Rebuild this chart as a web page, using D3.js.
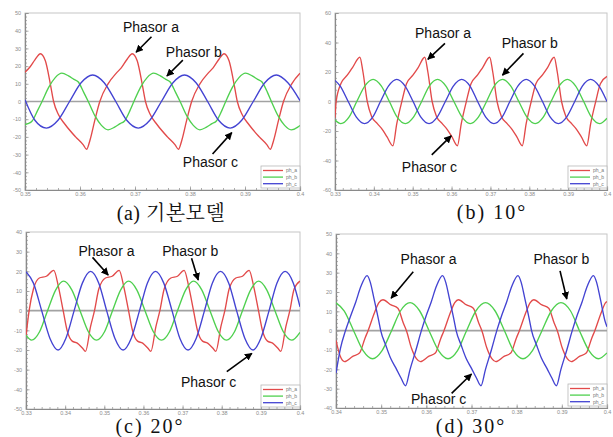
<!DOCTYPE html>
<html>
<head>
<meta charset="utf-8">
<script src="https://cdn.jsdelivr.net/npm/d3@7"></script>
<style>
  body { margin: 0; background: #fff; }
  svg { display: block; }
</style>
</head>
<body>
<svg id="chart" width="613" height="437"></svg>
<script>
// ---- data (time in s, current in A) ----
const seriesNames = ['ph_a', 'ph_b', 'ph_c'];
const captions = ['(a) 기본모델', '(b) 10°', '(c) 20°', '(d) 30°'];

// (a) 기본모델
const aXTicks = [0.35, 0.36, 0.37, 0.38, 0.39, 0.40];
const aYTicks = [-50, -40, -30, -20, -10, 0, 10, 20, 30, 40, 50];
const aPhA = [[0.35,16.5],[0.3509,19.5],[0.3518,23.5],[0.3528,27],[0.3537,23],[0.3546,10],[0.3552,0],[0.3561,-7.5],[0.3573,-13],[0.3592,-20],[0.3606,-24.5],[0.3612,-27],[0.3618,-22],[0.3627,-10.5],[0.3636,0],[0.3651,10],[0.3666,16],[0.3675,19],[0.3686,24],[0.3695,27],[0.3704,23],[0.3713,10],[0.3719,0],[0.3728,-7.5],[0.3740,-13],[0.3759,-20],[0.3773,-24.5],[0.3779,-27],[0.3785,-22],[0.3794,-10.5],[0.3803,0],[0.3818,10],[0.3833,16],[0.3842,19],[0.3853,24],[0.3862,27],[0.3871,23],[0.3880,10],[0.3886,0],[0.3895,-7.5],[0.3907,-13],[0.3926,-20],[0.3940,-24.5],[0.3946,-27],[0.3952,-22],[0.3961,-10.5],[0.3970,0],[0.3985,10],[0.4,16]];
const aPhB = [[0.35,-13],[0.3505,-12.5],[0.3513,-11],[0.3523,-5],[0.3531,0],[0.3543,8],[0.3555,13.5],[0.3567,16],[0.3579,14.5],[0.3589,12.5],[0.3597,11],[0.3607,5],[0.3615,0],[0.3627,-8],[0.3639,-13.5],[0.3651,-16],[0.3663,-14.5],[0.3673,-12.5],[0.3681,-11],[0.3691,-5],[0.3698,0],[0.3710,8],[0.3722,13.5],[0.3734,16],[0.3746,14.5],[0.3756,12.5],[0.3764,11],[0.3774,5],[0.3782,0],[0.3794,-8],[0.3806,-13.5],[0.3818,-16],[0.3830,-14.5],[0.3840,-12.5],[0.3848,-11],[0.3858,-5],[0.3865,0],[0.3877,8],[0.3889,13.5],[0.3901,16],[0.3913,14.5],[0.3923,12.5],[0.3931,11],[0.3941,5],[0.3948,0],[0.3960,-8],[0.3972,-13.5],[0.3984,-16],[0.3996,-14.5],[0.4,-13.5]];
const aPhC = [[0.35,1],[0.3518,-10.6],[0.3539,-15],[0.3560,-10.6],[0.3581,0],[0.3602,10.6],[0.3623,15],[0.3644,10.6],[0.3665,0],[0.3685,-10.6],[0.3706,-15],[0.3727,-10.6],[0.3748,0],[0.3769,10.6],[0.3790,15],[0.3811,10.6],[0.3832,0],[0.3852,-10.6],[0.3873,-15],[0.3894,-10.6],[0.3915,0],[0.3936,10.6],[0.3957,15],[0.3978,10.6],[0.4,0.5]];
// label: text, text t, text v, arrow-from t, v, arrow-to t, v
const aNotes = [
  ['Phasor a', 0.3678, 39.4, 0.3730, 36.6, 0.3702, 27.8],
  ['Phasor b', 0.3756, 25.0, 0.3787, 23.4, 0.3758, 14.4],
  ['Phasor c', 0.3787, -36.8, 0.3841, -29.7, 0.3876, -17.6]
];

// (b) 10°
const bXTicks = [0.33, 0.34, 0.35, 0.36, 0.37, 0.38, 0.39, 0.40];
const bYTicks = [-60, -40, -20, 0, 20, 40, 60];
const bPhA = [[0.33,-11],[0.3303,0],[0.3315,12],[0.3332,18],[0.3345,23],[0.3364,30],[0.3372,20],[0.3383,0],[0.3394,-10],[0.3409,-15],[0.3422,-19],[0.3434,-24],[0.3449,-30],[0.3459,-15],[0.3472,0],[0.3484,12],[0.3501,18],[0.3514,23],[0.3531,30],[0.3539,20],[0.3550,0],[0.3561,-10],[0.3576,-15],[0.3589,-19],[0.3601,-24],[0.3615,-30],[0.3625,-15],[0.3638,0],[0.3650,12],[0.3667,18],[0.3680,23],[0.3698,30],[0.3706,20],[0.3717,0],[0.3728,-10],[0.3743,-15],[0.3756,-19],[0.3768,-24],[0.3782,-30],[0.3792,-15],[0.3805,0],[0.3817,12],[0.3834,18],[0.3847,23],[0.3864,30],[0.3872,20],[0.3883,0],[0.3894,-10],[0.3909,-15],[0.3922,-19],[0.3934,-24],[0.3948,-30],[0.3958,-15],[0.3971,0],[0.3983,12],[0.4,17]];
const bPhB = [[0.33,-12.6],[0.3315,-15],[0.3336,-10.6],[0.3356,0],[0.3377,10.6],[0.3398,15],[0.3419,10.6],[0.3440,0],[0.3460,-10.6],[0.3481,-15],[0.3502,-10.6],[0.3523,0],[0.3543,10.6],[0.3564,15],[0.3585,10.6],[0.3606,0],[0.3627,-10.6],[0.3648,-15],[0.3669,-10.6],[0.3690,0],[0.3710,10.6],[0.3731,15],[0.3752,10.6],[0.3773,0],[0.3794,-10.6],[0.3815,-15],[0.3836,-10.6],[0.3856,0],[0.3877,10.6],[0.3898,15],[0.3919,10.6],[0.3940,0],[0.3960,-10.6],[0.3981,-15],[0.4,-11.3]];
const bPhC = [[0.33,14.3],[0.3313,10.6],[0.3334,0],[0.3355,-10.6],[0.3376,-15],[0.3397,-10.6],[0.3417,0],[0.3438,10.6],[0.3459,15],[0.3480,10.6],[0.3501,0],[0.3521,-10.6],[0.3542,-15],[0.3563,-10.6],[0.3584,0],[0.3605,10.6],[0.3626,15],[0.3647,10.6],[0.3667,0],[0.3688,-10.6],[0.3709,-15],[0.3730,-10.6],[0.3750,0],[0.3771,10.6],[0.3792,15],[0.3813,10.6],[0.3834,0],[0.3854,-10.6],[0.3875,-15],[0.3896,-10.6],[0.3917,0],[0.3937,10.6],[0.3958,15],[0.3979,10.6],[0.4,0]];
const bNotes = [
  ['Phasor a', 0.3506, 42.8, 0.3583, 39.4, 0.3539, 28.6],
  ['Phasor b', 0.3729, 36.0, 0.3785, 32.6, 0.3731, 17.9],
  ['Phasor c', 0.3472, -47.5, 0.3549, -36.2, 0.3599, -23.3]
];

// (c) 20°
const cXTicks = [0.33, 0.34, 0.35, 0.36, 0.37, 0.38, 0.39, 0.40];
const cYTicks = [-50, -40, -30, -20, -10, 0, 10, 20, 30, 40];
const cPhA = [[0.33,-13],[0.3308,0],[0.3319,11],[0.3334,16.6],[0.3352,17.5],[0.3371,20.5],[0.3383,12],[0.3395,0],[0.3405,-10],[0.3418,-15.5],[0.3431,-16.5],[0.3444,-19],[0.3452,-20.7],[0.3465,-8],[0.3475,0],[0.3486,11],[0.3503,16.6],[0.3520,17.5],[0.3538,20.5],[0.3550,12],[0.3562,0],[0.3572,-10],[0.3585,-15.5],[0.3598,-16.5],[0.3611,-19],[0.3619,-20.7],[0.3632,-8],[0.3642,0],[0.3653,11],[0.3670,16.6],[0.3687,17.5],[0.3704,20.5],[0.3716,12],[0.3728,0],[0.3738,-10],[0.3751,-15.5],[0.3764,-16.5],[0.3777,-19],[0.3785,-20.7],[0.3798,-8],[0.3808,0],[0.3819,11],[0.3836,16.6],[0.3853,17.5],[0.3870,20.5],[0.3882,12],[0.3894,0],[0.3904,-10],[0.3917,-15.5],[0.3930,-16.5],[0.3943,-19],[0.3951,-20.7],[0.3964,-8],[0.3974,0],[0.3985,11],[0.4,15]];
const cPhB = [[0.33,-12.5],[0.3314,-15],[0.3335,-10.6],[0.3355,0],[0.3376,10.6],[0.3396,15],[0.3417,10.6],[0.3438,0],[0.3459,-10.6],[0.3480,-15],[0.3501,-10.6],[0.3521,0],[0.3542,10.6],[0.3562,15],[0.3583,10.6],[0.3604,0],[0.3625,-10.6],[0.3646,-15],[0.3667,-10.6],[0.3687,0],[0.3708,10.6],[0.3728,15],[0.3749,10.6],[0.3770,0],[0.3791,-10.6],[0.3812,-15],[0.3833,-10.6],[0.3853,0],[0.3874,10.6],[0.3894,15],[0.3915,10.6],[0.3936,0],[0.3957,-10.6],[0.3979,-15],[0.4,-11]];
const cPhC = [[0.33,19.8],[0.3319,14],[0.3340,0],[0.3361,-14],[0.3382,-20],[0.3402,-14],[0.3423,0],[0.3444,14],[0.3465,20],[0.3486,14],[0.3506,0],[0.3527,-14],[0.3548,-20],[0.3569,-14],[0.3590,0],[0.3610,14],[0.3631,20],[0.3652,14],[0.3673,0],[0.3693,-14],[0.3714,-20],[0.3735,-14],[0.3756,0],[0.3776,14],[0.3797,20],[0.3818,14],[0.3838,0],[0.3859,-14],[0.3880,-20],[0.3900,-14],[0.3921,0],[0.3941,14],[0.3962,20],[0.3983,14],[0.4,2]];
const cNotes = [
  ['Phasor a', 0.3434, 28.0, 0.3470, 27.1, 0.3510, 18.1],
  ['Phasor b', 0.3648, 28.0, 0.3723, 26.6, 0.3740, 15.6],
  ['Phasor c', 0.3696, -38.6, 0.3813, -31.0, 0.3877, -21.7]
];

// (d) 30°
const dXTicks = [0.34, 0.35, 0.36, 0.37, 0.38, 0.39, 0.40];
const dYTicks = [-40, -30, -20, -10, 0, 10, 20, 30, 40, 50];
const dPhA = [[0.34,-5],[0.3409,-13],[0.3419,-16],[0.3437,-13.3],[0.3452,-11.6],[0.3464,-4],[0.3471,0],[0.3486,9.8],[0.3495,14.5],[0.3504,16],[0.3522,13.3],[0.3537,11.6],[0.3549,4],[0.3556,0],[0.3567,-9],[0.3578,-14.5],[0.3587,-16],[0.3605,-13.3],[0.3620,-11.6],[0.3632,-4],[0.3639,0],[0.3654,9.8],[0.3663,14.5],[0.3671,16],[0.3689,13.3],[0.3704,11.6],[0.3716,4],[0.3723,0],[0.3734,-9],[0.3745,-14.5],[0.3754,-16],[0.3772,-13.3],[0.3787,-11.6],[0.3799,-4],[0.3806,0],[0.3821,9.8],[0.3830,14.5],[0.3838,16],[0.3856,13.3],[0.3871,11.6],[0.3883,4],[0.3890,0],[0.3901,-9],[0.3912,-14.5],[0.3921,-16],[0.3939,-13.3],[0.3954,-11.6],[0.3966,-4],[0.3973,0],[0.3988,9.8],[0.3997,14.5],[0.4,15]];
const dPhB = [[0.34,14.4],[0.3418,10.3],[0.3439,0],[0.3460,-10.3],[0.3481,-14.5],[0.3502,-10.3],[0.3523,0],[0.3543,10.3],[0.3564,14.5],[0.3585,10.3],[0.3606,0],[0.3627,-10.3],[0.3648,-14.5],[0.3669,-10.3],[0.3689,0],[0.3710,10.3],[0.3731,14.5],[0.3752,10.3],[0.3773,0],[0.3793,-10.3],[0.3814,-14.5],[0.3835,-10.3],[0.3856,0],[0.3877,10.3],[0.3898,14.5],[0.3919,10.3],[0.3939,0],[0.3960,-10.3],[0.3981,-14.5],[0.4,-11.5]];
const dPhC = [[0.34,-22],[0.3410,-9],[0.3421,0],[0.3433,8],[0.3444,15],[0.3455,22.8],[0.3469,28.5],[0.3476,25],[0.3484,16.7],[0.3495,4.7],[0.3499,0],[0.3510,-7.4],[0.3521,-14.3],[0.3533,-19.5],[0.3544,-24.5],[0.3554,-28.5],[0.3564,-20],[0.3577,-10],[0.3589,0],[0.3600,8],[0.3611,15],[0.3622,22.8],[0.3636,28.5],[0.3643,25],[0.3651,16.7],[0.3662,4.7],[0.3666,0],[0.3677,-7.4],[0.3688,-14.3],[0.3700,-19.5],[0.3711,-24.5],[0.3721,-28.5],[0.3731,-20],[0.3744,-10],[0.3756,0],[0.3767,8],[0.3778,15],[0.3789,22.8],[0.3803,28.5],[0.3810,25],[0.3818,16.7],[0.3829,4.7],[0.3833,0],[0.3844,-7.4],[0.3855,-14.3],[0.3867,-19.5],[0.3878,-24.5],[0.3888,-28.5],[0.3898,-20],[0.3911,-10],[0.3923,0],[0.3934,8],[0.3945,15],[0.3956,22.8],[0.3970,28.5],[0.3977,25],[0.3985,16.7],[0.3996,4.7],[0.4,2]];
const dNotes = [
  ['Phasor a', 0.3543, 34.4, 0.3571, 30.5, 0.3522, 16.8],
  ['Phasor b', 0.3837, 34.4, 0.3896, 30.9, 0.3911, 16.4],
  ['Phasor c', 0.3566, -37.9, 0.3656, -32.4, 0.3700, -22.4]
];

// ---- layout & style ----
const colors = ['#e24a4a', '#4fd04f', '#4343d2'];
const panels = [
  { box: { left: 25, top: 13, width: 275, height: 177 }, cap: [171, 220],
    xTicks: aXTicks, yTicks: aYTicks, series: [aPhA, aPhB, aPhC], notes: aNotes, caption: captions[0] },
  { box: { left: 335, top: 13, width: 272, height: 177 }, cap: [492, 219],
    xTicks: bXTicks, yTicks: bYTicks, series: [bPhA, bPhB, bPhC], notes: bNotes, caption: captions[1] },
  { box: { left: 26, top: 232, width: 274, height: 177 }, cap: [150, 433],
    xTicks: cXTicks, yTicks: cYTicks, series: [cPhA, cPhB, cPhC], notes: cNotes, caption: captions[2] },
  { box: { left: 336, top: 234, width: 271, height: 174 }, cap: [471, 433],
    xTicks: dXTicks, yTicks: dYTicks, series: [dPhA, dPhB, dPhC], notes: dNotes, caption: captions[3] }
];

const svg = d3.select('#chart');

svg.append('defs').append('marker')
  .attr('id', 'head')
  .attr('viewBox', '0 0 10 10')
  .attr('refX', 9).attr('refY', 5)
  .attr('markerWidth', 4.8).attr('markerHeight', 4.8)
  .attr('orient', 'auto')
  .append('path')
  .attr('d', 'M0,0 L10,5 L0,10 Z')
  .attr('fill', '#000');

// split each major interval into 5 for the ruler ticks
function minorTicks(ticks) {
  const out = [];
  for (let i = 0; i < ticks.length - 1; i++) {
    const step = (ticks[i + 1] - ticks[i]) / 5;
    for (let k = 0; k < 5; k++) out.push(ticks[i] + k * step);
  }
  out.push(ticks[ticks.length - 1]);
  return out;
}

panels.forEach((p, pi) => {
  const B = p.box;
  const x = d3.scaleLinear().domain(d3.extent(p.xTicks)).range([B.left, B.left + B.width]);
  const y = d3.scaleLinear().domain(d3.extent(p.yTicks)).range([B.top + B.height, B.top]);
  const g = svg.append('g');

  const clipId = 'clip' + pi;
  svg.select('defs').append('clipPath').attr('id', clipId)
    .append('rect').attr('x', B.left).attr('y', B.top).attr('width', B.width).attr('height', B.height);

  // frame
  g.append('rect')
    .attr('x', B.left).attr('y', B.top).attr('width', B.width).attr('height', B.height)
    .attr('fill', '#fff').attr('stroke', '#c6c6c6').attr('stroke-width', 1);

  // zero line
  g.append('line')
    .attr('x1', B.left).attr('x2', B.left + B.width)
    .attr('y1', y(0)).attr('y2', y(0))
    .attr('stroke', '#a2a2a2').attr('stroke-width', 1.6);

  // bottom axis: minor ruler + labelled majors
  const xAxisG = g.append('g').attr('transform', `translate(0,${B.top + B.height})`);
  xAxisG.append('g')
    .call(d3.axisBottom(x).tickValues(minorTicks(p.xTicks)).tickSize(-2).tickFormat(''))
    .call(s => s.select('.domain').remove());
  xAxisG.append('g')
    .call(d3.axisBottom(x).tickValues(p.xTicks).tickSize(-3.5).tickPadding(2)
      .tickFormat(d => String(+d.toFixed(2))));

  // left axis
  const yAxisG = g.append('g').attr('transform', `translate(${B.left},0)`);
  yAxisG.append('g')
    .call(d3.axisLeft(y).tickValues(minorTicks(p.yTicks)).tickSize(-2).tickFormat(''))
    .call(s => s.select('.domain').remove());
  yAxisG.append('g')
    .call(d3.axisLeft(y).tickValues(p.yTicks).tickSize(-3.5).tickPadding(4)
      .tickFormat(d => String(d)));

  g.selectAll('.domain').attr('stroke', '#8a8a8a').attr('stroke-width', 1.2);
  g.selectAll('.tick line').attr('stroke', '#999').attr('stroke-width', 0.8);
  g.selectAll('.tick text')
    .attr('fill', '#8c8c8c')
    .attr('font-family', 'Liberation Sans, Arial, sans-serif')
    .attr('font-size', 5.5);

  // traces
  const line = d3.line()
    .x(d => x(d[0]))
    .y(d => y(d[1]))
    .curve(d3.curveMonotoneX);

  g.append('g').attr('clip-path', `url(#${clipId})`)
    .selectAll('path')
    .data(p.series)
    .join('path')
    .attr('d', line)
    .attr('fill', 'none')
    .attr('stroke', (d, i) => colors[i])
    .attr('stroke-width', 1.35)
    .attr('stroke-linejoin', 'round');

  // legend box in the lower-right corner
  const lw = 39, lh = 22;
  const lx = B.left + B.width - lw, ly = B.top + B.height - lh - 2;
  const leg = g.append('g').attr('transform', `translate(${lx},${ly})`);
  leg.append('rect').attr('width', lw).attr('height', lh)
    .attr('fill', '#fff').attr('stroke', '#b8b8b8').attr('stroke-width', 0.8);
  const rows = leg.selectAll('g.row').data(seriesNames).join('g')
    .attr('class', 'row')
    .attr('transform', (d, i) => `translate(0,${4.5 + i * 6.6})`);
  rows.append('line')
    .attr('x1', 2).attr('x2', 22)
    .attr('stroke', (d, i) => colors[i]).attr('stroke-width', 1.3);
  rows.append('text')
    .attr('x', 25).attr('y', 1.8)
    .attr('font-family', 'Liberation Sans, Arial, sans-serif')
    .attr('font-size', 5)
    .attr('fill', '#777')
    .text(d => d);

  // phasor callouts
  const notes = g.append('g');
  p.notes.forEach(n => {
    notes.append('text')
      .attr('x', x(n[1])).attr('y', y(n[2]))
      .attr('font-family', 'Liberation Sans, Arial, sans-serif')
      .attr('font-size', 14)
      .attr('fill', '#111')
      .text(n[0]);
    notes.append('line')
      .attr('x1', x(n[3])).attr('y1', y(n[4]))
      .attr('x2', x(n[5])).attr('y2', y(n[6]))
      .attr('stroke', '#000').attr('stroke-width', 1.6)
      .attr('marker-end', 'url(#head)');
  });

  // caption under the panel
  svg.append('text')
    .attr('x', p.cap[0]).attr('y', p.cap[1])
    .attr('text-anchor', 'middle')
    .attr('font-family', 'Liberation Serif, Noto Serif CJK KR, Noto Sans CJK KR, serif')
    .attr('font-size', 20)
    .attr('letter-spacing', pi === 0 ? 0.5 : 2)
    .attr('fill', '#111')
    .style('white-space', 'pre')
    .text(p.caption);
});
</script>
</body>
</html>
